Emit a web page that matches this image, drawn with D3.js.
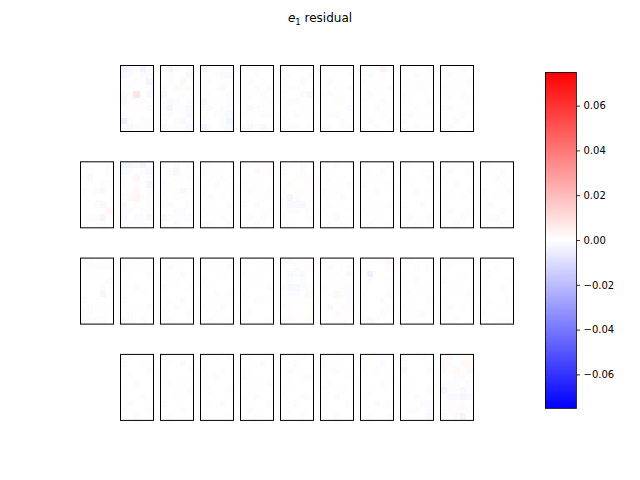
<!DOCTYPE html>
<html><head><meta charset="utf-8">
<script src="https://cdn.jsdelivr.net/npm/d3@7"></script>
<style>body{margin:0;background:#fff}svg{display:block}</style>
</head><body><svg id="c" width="640" height="480"></svg>
<script>
// residual values in units of 0.001, each panel 10 rows x 5 cols (row-major)
const rowCounts = [9, 11, 11, 9];
const nCols = 5, nRows = 10;
const unit = 0.001;
const vmin = -0.075, vmax = 0.075;
const cbTicks = [-0.06, -0.04, -0.02, 0.00, 0.02, 0.04, 0.06];
const panels = [
// row 1
[-4,-2,-1,-4,-1,-2,-1,0,-1,-1,-1,0,1,0,-3,0,1,0,0,-1,2,1,8,0,-2,3,0,0,1,0,0,0,1,0,-1,-1,0,0,0,0,-5,-1,0,-1,-1,-1,-2,-1,-1,-1],
[-1,-3,-1,0,-1,0,-1,0,0,-2,0,1,0,2,0,-1,1,2,1,-1,-2,0,0,1,0,-1,-2,-1,0,-1,-1,-3,-1,-1,-2,0,-1,0,-1,-2,-1,0,-1,-2,-1,-2,-1,-1,-1,-2],
[-3,-1,0,-1,-1,-1,0,-1,-2,-2,0,1,0,1,1,-1,0,1,2,0,0,1,0,0,-1,-2,0,1,0,-1,-1,-1,0,-1,-1,0,0,-1,-1,-2,-1,0,0,-1,-3,-3,-1,0,-1,-2],
[0,-1,-1,0,1,-1,0,1,0,0,0,-1,0,1,0,1,0,-1,0,-1,0,1,0,-1,0,-1,0,0,0,1,0,-2,-1,0,0,1,0,0,-1,-1,0,-1,0,0,0,-1,-2,-1,-2,-1],
[1,0,0,1,0,0,1,0,0,-1,-1,0,0,-1,0,0,-1,1,0,0,1,0,0,-1,-2,0,-1,-1,0,0,-1,0,0,1,0,0,0,-1,0,1,-1,0,0,0,0,0,-1,-1,0,-1],
[0,1,0,1,0,-1,0,0,0,1,0,-1,0,0,0,0,0,1,0,-1,-1,-1,0,0,0,0,0,1,1,0,-1,0,0,0,-1,0,-1,-1,0,0,0,0,0,-1,0,-1,-1,0,-1,-1],
[0,0,0,4,1,0,-1,0,1,0,-1,0,0,0,0,0,0,1,0,-1,0,-1,0,0,0,1,0,0,-1,0,0,0,-1,0,0,-1,0,0,1,0,0,-1,0,0,-1,-1,0,-1,0,0],
[0,1,0,0,-1,0,0,-1,0,0,1,0,0,0,1,0,0,1,-1,0,-1,0,0,0,0,0,1,0,0,-1,0,0,-1,0,0,0,-1,0,1,0,-1,0,0,0,0,0,0,-1,0,1],
[-1,0,0,-1,0,0,-1,0,0,0,0,0,1,0,-1,-1,0,0,0,0,0,1,0,-1,0,0,0,0,0,1,-1,-1,0,0,0,0,0,0,-1,0,1,0,-1,0,0,0,-1,0,0,-1],
// row 2
[0,0,0,0,-1,0,-1,0,0,-1,0,-2,0,0,0,0,0,0,-1,-1,-1,0,-1,-2,0,0,0,0,0,0,0,0,-1,-2,0,0,0,0,0,3,0,-1,-1,-3,0,0,0,0,-1,0],
[-3,-3,-2,-3,-1,-2,-1,0,-1,-2,-1,0,3,0,-1,-1,0,1,0,-3,0,1,2,0,-1,-1,2,3,1,-1,-2,0,1,0,-1,-2,-1,0,-1,-1,-2,0,-1,-1,-2,-1,-1,-1,-1,0],
[-1,0,-1,0,-1,0,-1,3,0,0,0,0,1,0,1,-1,1,0,0,0,-1,0,0,3,-1,0,0,1,0,0,-1,-1,0,0,-1,0,0,-1,-1,0,-2,-1,-1,-1,-1,-1,0,-1,0,0],
[0,-1,0,1,0,-1,0,0,0,0,0,1,0,-1,0,0,0,-1,0,1,1,0,0,0,0,0,-1,0,1,0,0,0,0,0,-1,-1,0,1,0,0,0,0,0,-1,0,-1,-1,0,0,-1],
[1,1,0,1,0,0,0,-1,0,1,0,0,0,0,0,-1,0,1,0,0,0,-1,0,0,-1,0,0,0,1,0,-1,0,-1,0,0,0,0,0,0,1,0,-1,0,-1,0,0,0,-1,0,0],
[0,1,0,-1,0,-1,0,0,-1,0,0,0,1,1,1,0,1,0,0,1,-1,0,1,1,0,-1,-3,-1,0,1,-1,-2,-2,-2,0,0,-1,-1,0,-1,1,0,0,0,1,0,1,0,0,0],
[0,0,-1,0,1,1,0,0,0,0,0,-1,0,1,0,0,0,0,0,-1,-1,0,1,0,0,0,0,0,-1,0,0,1,0,0,0,-1,0,0,0,1,0,0,-1,0,0,0,-1,0,1,0],
[1,0,0,0,-1,0,1,0,-1,0,0,0,1,0,0,-1,0,0,0,1,0,0,-1,0,0,0,1,0,0,0,0,0,0,1,-1,-1,0,0,0,0,0,0,1,0,0,0,-1,0,0,1],
[0,-1,0,0,0,0,0,0,1,0,-1,0,0,0,-1,0,1,0,0,0,0,0,-1,0,1,0,0,0,0,0,1,0,0,-1,0,0,0,0,0,0,0,-1,0,0,-1,0,0,1,0,0],
[0,0,1,0,0,0,-1,0,0,1,1,0,0,0,0,0,0,-1,0,0,0,1,0,0,-1,-1,0,0,1,0,0,0,0,0,0,0,-1,0,0,1,0,0,0,-1,0,1,0,-1,0,0],
[0,-1,0,0,0,0,0,0,-1,0,0,0,-1,0,0,0,0,0,1,0,-1,0,0,0,-1,0,0,1,0,0,0,-1,0,0,0,-1,0,0,-1,0,0,-1,-1,0,0,0,0,0,-1,-1],
// row 3
[-1,-1,0,-1,0,0,-1,-1,-1,-1,0,0,1,0,0,0,0,0,0,-1,0,0,0,-1,0,0,0,0,-3,0,-1,0,0,0,0,0,-1,0,1,0,-1,-1,0,0,0,-1,-1,-1,-1,0],
[0,0,-1,0,0,-1,0,0,1,0,0,1,0,0,-1,0,0,0,0,0,1,0,-1,0,0,0,0,0,1,0,-1,0,0,0,0,0,0,1,0,-1,0,-1,0,0,0,-1,-1,0,-1,0],
[0,0,0,1,0,0,-1,0,0,0,1,0,0,-1,0,0,0,1,0,0,-1,0,0,0,1,0,0,0,0,0,0,1,0,-1,0,0,0,-1,0,0,-1,0,0,0,-1,0,-1,0,0,0],
[1,0,0,0,0,0,0,1,0,-1,0,0,0,1,0,-1,0,0,0,0,0,1,0,0,0,0,0,-1,0,1,0,0,0,0,0,1,0,0,-1,0,0,0,1,0,0,0,-1,0,0,1],
[0,1,0,0,1,0,0,0,1,0,-1,0,0,0,0,0,0,1,0,0,0,0,0,0,-1,1,0,0,0,0,0,0,-1,1,0,0,0,0,0,0,0,1,0,0,0,-1,0,0,0,1],
[2,2,1,1,1,1,0,-1,0,1,0,-2,-1,-2,0,0,-1,0,-1,0,-1,-2,-2,-1,1,0,-1,-1,0,2,0,0,0,0,1,1,1,0,0,1,0,1,0,0,1,-1,-1,0,1,1],
[-1,0,0,1,0,0,-1,0,1,1,0,0,0,0,2,0,1,0,1,0,1,0,0,1,-1,0,0,2,-1,-1,0,0,1,0,-1,0,-2,0,1,1,0,0,-1,0,1,0,0,0,1,0],
[0,0,0,1,2,0,0,0,0,1,0,-5,0,0,0,0,-1,0,0,1,0,0,0,0,0,1,0,0,0,-1,0,0,0,-1,0,1,0,0,0,1,0,0,0,-1,0,-1,-2,-1,0,0],
[0,-1,0,0,0,0,0,1,0,-1,0,0,0,0,0,1,0,-1,0,0,0,0,0,1,0,0,-1,0,0,0,0,0,0,0,1,-1,0,0,0,0,0,0,1,-1,0,0,0,0,0,0],
[0,0,1,0,1,0,1,0,0,0,0,0,0,1,0,-1,0,0,0,0,0,0,1,0,0,0,0,0,0,-1,1,0,0,0,0,0,-1,0,1,0,0,0,0,0,0,1,0,-1,0,0],
[1,0,0,0,1,0,0,1,0,0,0,-1,0,0,0,0,0,0,0,1,1,0,0,-1,0,0,0,0,0,0,0,1,0,0,-1,0,0,0,1,0,-1,0,0,0,0,0,0,1,0,1],
// row 4
[0,-1,0,0,0,-1,0,0,1,0,0,0,0,0,-1,0,1,0,0,0,0,0,-1,0,0,1,0,0,0,0,0,0,0,-1,0,0,-1,0,0,0,-1,0,0,0,1,0,0,-1,0,0],
[-1,0,0,0,0,0,1,0,-1,0,0,0,0,0,1,1,0,0,0,0,0,-1,0,1,0,0,0,0,0,-1,0,0,1,0,0,-1,0,0,0,0,0,0,0,-1,0,0,-1,0,0,0],
[0,0,1,0,-1,0,0,0,0,0,-1,0,0,1,0,0,0,-1,0,0,1,0,0,0,0,0,-1,0,0,1,0,0,0,0,0,0,1,0,-1,0,0,0,0,0,0,-1,0,0,0,1],
[0,-1,0,0,1,0,0,0,-1,0,0,1,0,0,0,-1,0,0,0,0,0,0,1,0,-1,0,0,0,0,0,1,0,-1,0,0,0,0,0,0,1,0,-1,0,0,0,0,0,1,0,0],
[1,0,0,-1,0,0,0,1,0,0,0,-1,0,0,0,0,0,0,1,-1,0,1,0,0,0,-1,0,0,0,0,0,0,0,-1,1,0,0,1,0,0,0,-1,0,0,0,1,0,0,-1,0],
[0,0,0,1,0,-1,0,0,0,0,0,1,-1,0,0,0,0,0,0,1,0,-1,0,0,0,1,0,0,1,0,0,0,-1,0,0,0,0,0,0,-1,1,0,0,0,0,0,0,-1,0,0],
[0,1,0,0,0,0,0,0,-1,0,-1,0,1,0,0,0,0,0,0,1,0,0,0,-1,0,0,1,0,0,0,-1,0,0,0,0,0,0,-1,0,1,0,0,0,0,0,0,-1,0,0,-1],
[0,0,0,-1,0,-1,0,0,0,0,-2,0,0,0,-1,0,0,0,0,0,0,1,0,0,0,1,0,0,0,-1,0,0,-1,0,0,0,0,0,-1,-1,0,-1,-1,0,-1,0,0,0,0,-2],
[1,2,0,1,1,2,1,0,2,2,2,1,2,1,2,0,0,-1,-1,0,-1,-1,-1,0,-1,-3,-1,-1,-2,-1,0,-2,-2,-3,-2,1,1,0,1,0,1,1,1,-1,-1,2,0,-1,-3,0]
];

const svg = d3.select("#c");
const color = d3.scaleLinear().domain([vmin, 0, vmax]).range(["#0000ff", "#ffffff", "#ff0000"]).clamp(true);

// layout
const pw = 33, ph = 66, pitchX = 40, pitchY = 96.3;
const maxCount = d3.max(rowCounts);
const colX = d3.scaleLinear().domain([0, 1]).range([80, 80 + pitchX]);
const rowY = d3.scaleLinear().domain([0, 1]).range([65, 65 + pitchY]);
const cx = d3.scaleBand().domain(d3.range(nCols)).range([0, pw]).padding(0);
const cy = d3.scaleBand().domain(d3.range(nRows)).range([0, ph]).padding(0);

let idx = 0;
rowCounts.forEach((n, r) => {
  const off = (maxCount - n) / 2;
  for (let c = 0; c < n; c++) {
    const vals = panels[idx++];
    const g = svg.append("g").attr("transform", `translate(${colX(c + off)},${rowY(r)})`);
    g.selectAll("rect.cell").data(vals).join("rect")
      .attr("class", "cell")
      .attr("x", (d, i) => cx(i % nCols))
      .attr("y", (d, i) => cy(Math.floor(i / nCols)))
      .attr("width", cx.bandwidth() + 0.5)
      .attr("height", cy.bandwidth() + 0.5)
      .attr("fill", d => color(d * unit))
      .attr("shape-rendering", "crispEdges");
    g.append("rect").attr("x", 0.5).attr("y", 0.5).attr("width", pw).attr("height", ph)
      .attr("fill", "none").attr("stroke", "#000").attr("stroke-width", 1);
  }
});

// title
const title = svg.append("text").attr("x", 320).attr("y", 22).attr("text-anchor", "middle")
  .attr("font-family", "DejaVu Sans").attr("font-size", 12).attr("fill", "#000");
title.append("tspan").attr("font-style", "italic").text("e");
title.append("tspan").attr("font-size", 8.5).attr("dy", 2.5).text("1");
title.append("tspan").attr("dy", -2.5).text(" residual");

// colorbar
const cbX = 545, cbW = 31, cbTop = 72, cbBot = 408;
const cbScale = d3.scaleLinear().domain([vmin, vmax]).range([cbBot, cbTop]);
const defs = svg.append("defs");
const grad = defs.append("linearGradient").attr("id", "cbg").attr("x1", 0).attr("y1", 1).attr("x2", 0).attr("y2", 0);
[vmin, 0, vmax].forEach((v, i) => grad.append("stop").attr("offset", i / 2).attr("stop-color", color(v)));
svg.append("rect").attr("x", cbX).attr("y", cbTop).attr("width", cbW).attr("height", cbBot - cbTop).attr("fill", "url(#cbg)");
svg.append("rect").attr("x", cbX + 0.5).attr("y", cbTop + 0.5).attr("width", cbW).attr("height", cbBot - cbTop)
  .attr("fill", "none").attr("stroke", "#000").attr("stroke-width", 0.8);
const axis = d3.axisRight(cbScale).tickValues(cbTicks).tickSize(3.5).tickPadding(3.5)
  .tickFormat(d => (d < 0 ? "\u2212" : "") + Math.abs(d).toFixed(2));
const ag = svg.append("g").attr("transform", `translate(${cbX + cbW + 0.5},0)`).call(axis);
ag.select(".domain").remove();
ag.selectAll("text").attr("font-family", "DejaVu Sans").attr("font-size", 10).attr("fill", "#000");
ag.selectAll("line").attr("stroke", "#000").attr("stroke-width", 0.8);
</script></body></html>
